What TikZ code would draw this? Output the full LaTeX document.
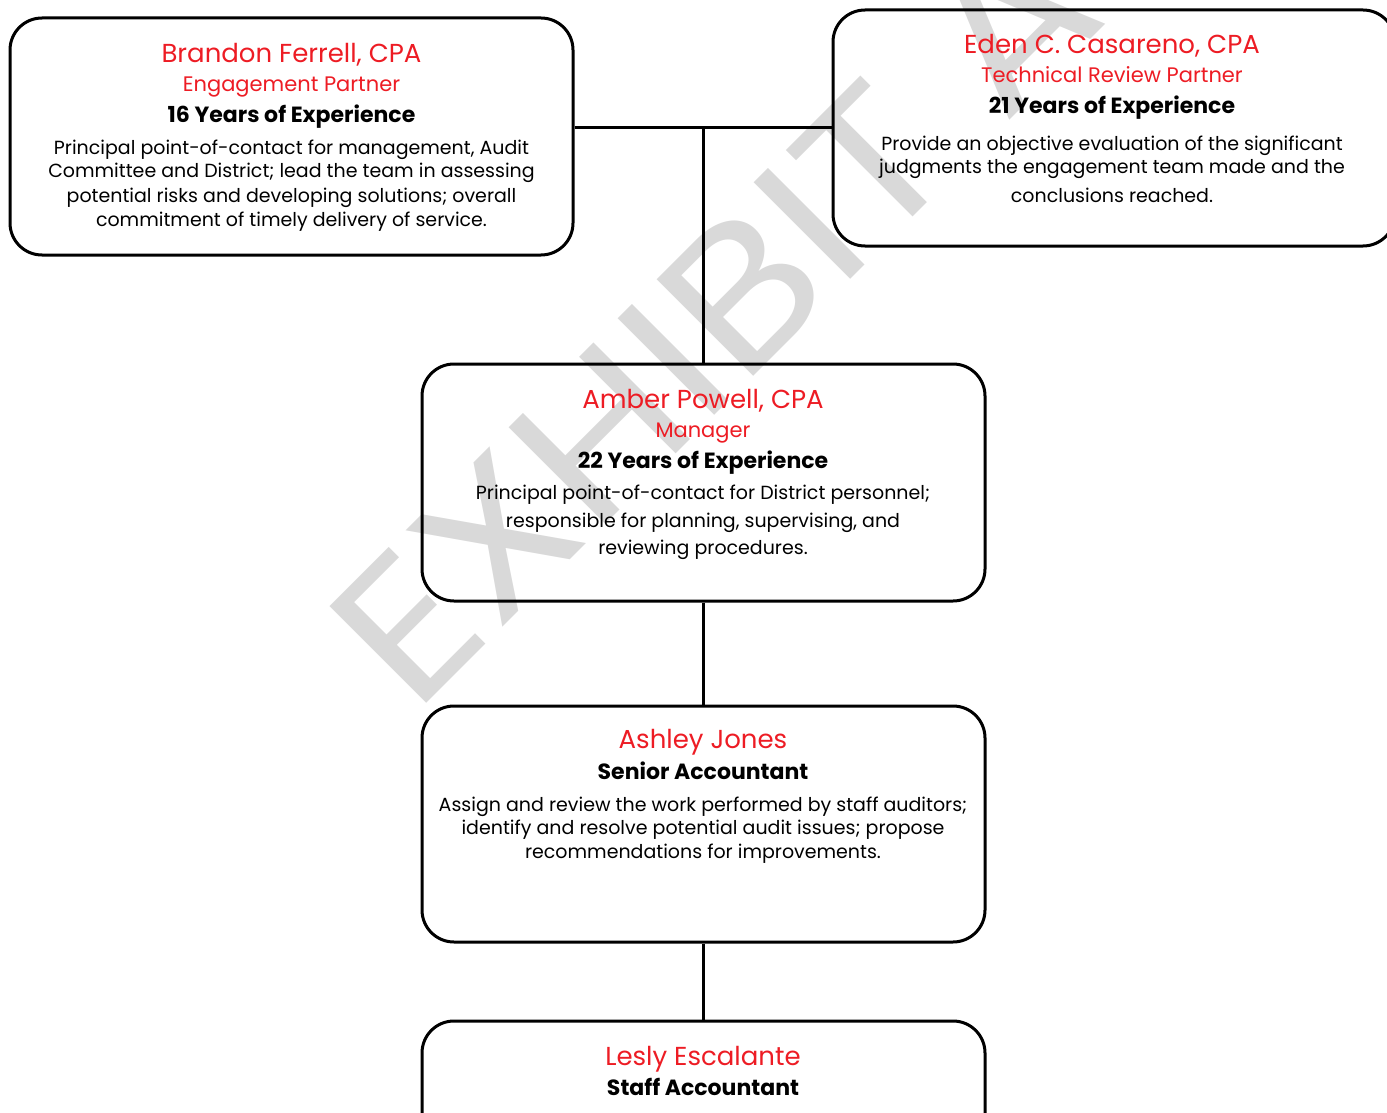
\documentclass[tikz,border=0pt]{standalone}
\usepackage{fontspec}
\setmainfont{Poppins}
\newfontfamily\wmfont{Poppins}
\definecolor{accred}{RGB}{237,28,36}
\definecolor{wmgray}{RGB}{217,217,217}
\begin{document}
\begin{tikzpicture}[x=1pt,y=-1pt,
  card/.style={draw=black, line width=3pt, rounded corners=32pt, inner sep=0pt, minimum width=563pt, minimum height=237pt},
  conn/.style={draw=black, line width=3pt},
  nm/.style={text=accred, font=\fontsize{26}{30}\selectfont, anchor=base, inner sep=0pt},
  rl/.style={text=accred, font=\fontsize{21}{25}\selectfont, anchor=base, inner sep=0pt},
  yr/.style={font=\bfseries\fontsize{22}{26}\selectfont, anchor=base, inner sep=0pt},
  ds/.style={font=\fontsize{19}{24}\selectfont, anchor=base, inner sep=0pt},
  wm/.style={text=wmgray, font=\wmfont\fontsize{196}{196}\selectfont, anchor=base west, inner sep=0pt, rotate=45},
]
\useasboundingbox (0,0) rectangle (1387,1113);
\begin{scope}
\clip (0,0) rectangle (1387,1113);
% watermark
\node[wm] (wmark) at (414,716) {\scalebox{1.14}[1]{EXHIBIT A}};
% boxes
\node[card] (b1) at (291.5,136.5) {};
\node[card, minimum width=562pt, minimum height=236pt] (b2) at (1114,128) {};
\node[card] (b3) at (703.5,482.5) {};
\node[card, minimum height=236pt] (b4) at (703.5,824) {};
\node[card] (b5) at (703.5,1139.5) {};
% connectors
\coordinate (j) at (b2.west -| b3.north);
\draw[conn] (b1.east |- b2.west) -- (b2.west);
\draw[conn] (j) -- (b3.north);
\draw[conn] (b3.south) -- (b4.north);
\draw[conn] (b4.south) -- (b5.north);
% box 1
\node[nm] (n1) at (291.5,63) {Brandon Ferrell, CPA};
\node[rl] (r1) at (291.5,92) {Engagement Partner};
\node[yr] (y1) at (291.5,123) {16 Years of Experience};
\node[ds] (d1a) at (291.5,154) {Principal point-of-contact for management, Audit};
\node[ds] (d1b) at (291.5,178) {Committee and District; lead the team in assessing};
\node[ds] (d1c) at (291.5,202) {potential risks and developing solutions; overall};
\node[ds] (d1d) at (291.5,226) {commitment of timely delivery of service.};
% box 2
\node[nm] (n2) at (1112,54) {Eden C. Casareno, CPA};
\node[rl] (r2) at (1112,83) {Technical Review Partner};
\node[yr] (y2) at (1112,114) {21 Years of Experience};
\node[ds] (d2a) at (1112,151) {Provide an objective evaluation of the significant};
\node[ds] (d2b) at (1112,174) {judgments the engagement team made and the};
\node[ds] (d2c) at (1112,202) {conclusions reached.};
% box 3
\node[nm] (n3) at (703,408) {Amber Powell, CPA};
\node[rl] (r3) at (703,437) {Manager};
\node[yr] (y3) at (703,468) {22 Years of Experience};
\node[ds] (d3a) at (703,499) {Principal point-of-contact for District personnel;};
\node[ds] (d3b) at (703,527) {responsible for planning, supervising, and};
\node[ds] (d3c) at (703,554) {reviewing procedures.};
% box 4
\node[nm] (n4) at (703,748) {Ashley Jones};
\node[yr] (y4) at (703,779) {Senior Accountant};
\node[ds] (d4a) at (703,811) {Assign and review the work performed by staff auditors;};
\node[ds] (d4b) at (703,834) {identify and resolve potential audit issues; propose};
\node[ds] (d4c) at (703,858) {recommendations for improvements.};
% box 5
\node[nm] (n5) at (703,1065) {Lesly Escalante};
\node[yr] (y5) at (703,1095) {Staff Accountant};
\end{scope}
\end{tikzpicture}
\end{document}
